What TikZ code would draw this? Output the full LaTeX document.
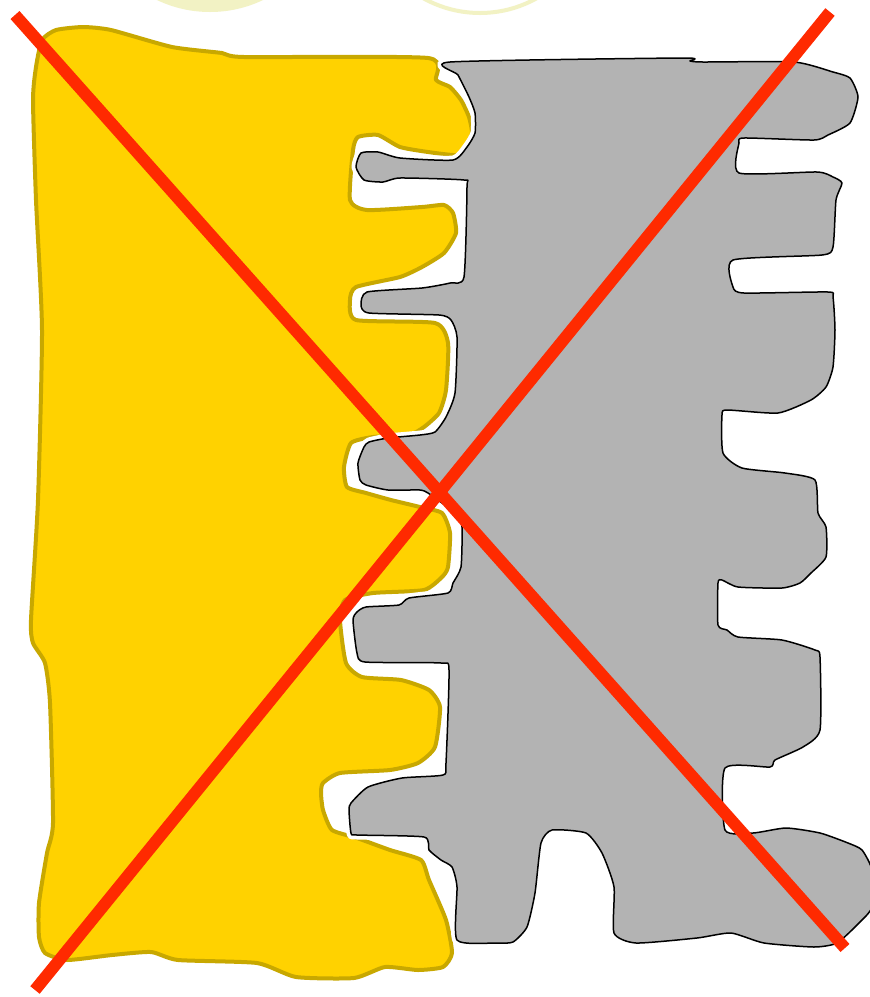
\documentclass[tikz,border=0pt]{standalone}
\usepackage{xcolor}
\usepackage{tikz}
\definecolor{partyellow}{HTML}{FFD200}
\definecolor{partyellowline}{HTML}{C8A800}
\definecolor{partgrey}{HTML}{B3B3B3}
\definecolor{crossred}{HTML}{FF2A00}
\definecolor{paleglow}{HTML}{F2F2C4}

\begin{document}
\begin{tikzpicture}[
        x=1pt, y=-1pt,
        glow/.style={fill=paleglow},
        glowring/.style={draw=paleglow, line width=4pt},
        yellowpart/.style={fill=partyellow, draw=partyellowline, line width=4pt, line join=round},
        greyhalo/.style={draw=white, line width=9pt, line join=round},
        greypart/.style={fill=partgrey, draw=black, line width=1.5pt, line join=round},
        crossline/.style={draw=crossred, line width=12pt}
    ]
        \clip (0,0) rectangle (870,997);
        \fill[white] (0,0) rectangle (870,997);

        \fill[glow] (210,-111) circle (123);
        \draw[glowring] (480,-103) circle (116);

        \path[yellowpart] plot[smooth cycle, tension=0.35] coordinates {
            (42,40) (56,30) (83,27) (111,30) (172,47) (222,53) (244,57) (428,58)
            (436,80) (450,87) (461,100) (469,117) (472,133) (467,147) (456,155)
            (428,152) (400,147) (378,135) (358,137) (353,150) (350,200) (367,210)
            (422,207) (444,205) (453,213) (456,233) (444,253) (422,267) (400,277)
            (356,287) (350,300) (356,320) (435,323) (448,343) (446,390) (439,413)
            (424,427) (409,435) (373,437) (351,443) (344,467) (347,487) (366,493)
            (391,500) (420,507) (442,513) (450,533) (448,567) (442,577) (424,590)
            (373,593) (345,600) (340,620) (346,663) (362,677) (401,680) (429,690)
            (440,707) (435,747) (418,763) (390,770) (340,773) (323,783) (321,793)
            (323,810) (332,830) (357,838) (390,850) (421,860) (429,880) (446,920)
            (452,953) (443,967) (418,970) (385,967) (354,978) (296,977) (257,963)
            (178,960) (151,952) (112,955) (67,960) (45,953) (39,937) (39,903)
            (47,853) (53,823) (50,703) (45,663) (33,643) (31,620) (38,500)
            (42,330) (36,200) (33,100) (36,67)};

        \path[greyhalo] plot[smooth cycle, tension=0.35] coordinates {
            (450,62) (683,58) (690,61) (703,62) (794,62) (833,72) (850,78) (858,97)
            (850,123) (828,135) (814,140) (744,138) (739,143) (739,173) (817,172)
            (833,177) (842,183) (836,200) (833,247) (822,255) (733,260) (733,287)
            (744,293) (828,292) (833,297) (835,330) (833,367) (826,387) (811,400)
            (778,413) (727,410) (722,415) (723,453) (742,468) (785,473) (815,480)
            (818,513) (826,527) (826,557) (811,573) (800,583) (782,588) (738,587)
            (722,580) (718,583) (718,625) (727,630) (738,637) (782,640) (815,650)
            (820,657) (820,730) (803,747) (775,760) (770,767) (725,768) (725,830)
            (753,833) (786,828) (820,833) (848,843) (862,850) (872,870) (872,907)
            (859,923) (837,943) (814,947) (764,943) (731,933) (697,938) (636,943)
            (614,933) (614,887) (602,853) (586,833) (552,830) (541,843) (535,893)
            (527,927) (513,942) (496,943) (457,940) (457,887) (452,867) (441,860)
            (429,850) (424,837) (357,835) (351,833) (349,810) (351,803) (368,787)
            (402,778) (443,775) (446,763) (449,670) (441,663) (365,662) (357,653)
            (353,620) (357,612) (366,607) (399,605) (409,598) (448,593) (453,583)
            (461,567) (462,527) (457,513) (442,503) (428,493) (420,490) (388,490)
            (366,485) (360,480) (358,463) (364,447) (369,442) (388,438) (420,435)
            (435,432) (446,417) (455,393) (457,337) (451,320) (439,315) (369,313)
            (361,305) (367,292) (422,288) (450,283) (464,277) (467,187) (464,180)
            (400,178) (383,182) (364,180) (356,167) (361,153) (378,152) (400,158)
            (453,160) (467,147) (475,133) (475,113) (469,97) (458,75)};

        \path[greypart] plot[smooth cycle, tension=0.35] coordinates {
            (450,62) (683,58) (690,61) (703,62) (794,62) (833,72) (850,78) (858,97)
            (850,123) (828,135) (814,140) (744,138) (739,143) (739,173) (817,172)
            (833,177) (842,183) (836,200) (833,247) (822,255) (733,260) (733,287)
            (744,293) (828,292) (833,297) (835,330) (833,367) (826,387) (811,400)
            (778,413) (727,410) (722,415) (723,453) (742,468) (785,473) (815,480)
            (818,513) (826,527) (826,557) (811,573) (800,583) (782,588) (738,587)
            (722,580) (718,583) (718,625) (727,630) (738,637) (782,640) (815,650)
            (820,657) (820,730) (803,747) (775,760) (770,767) (725,768) (725,830)
            (753,833) (786,828) (820,833) (848,843) (862,850) (872,870) (872,907)
            (859,923) (837,943) (814,947) (764,943) (731,933) (697,938) (636,943)
            (614,933) (614,887) (602,853) (586,833) (552,830) (541,843) (535,893)
            (527,927) (513,942) (496,943) (457,940) (457,887) (452,867) (441,860)
            (429,850) (424,837) (357,835) (351,833) (349,810) (351,803) (368,787)
            (402,778) (443,775) (446,763) (449,670) (441,663) (365,662) (357,653)
            (353,620) (357,612) (366,607) (399,605) (409,598) (448,593) (453,583)
            (461,567) (462,527) (457,513) (442,503) (428,493) (420,490) (388,490)
            (366,485) (360,480) (358,463) (364,447) (369,442) (388,438) (420,435)
            (435,432) (446,417) (455,393) (457,337) (451,320) (439,315) (369,313)
            (361,305) (367,292) (422,288) (450,283) (464,277) (467,187) (464,180)
            (400,178) (383,182) (364,180) (356,167) (361,153) (378,152) (400,158)
            (453,160) (467,147) (475,133) (475,113) (469,97) (458,75)};

        \coordinate (crossA) at (15,15);
        \coordinate (crossB) at (845,948);
        \coordinate (crossC) at (35,990);
        \coordinate (crossD) at (830,12);
        \draw[crossline] (crossA) -- (crossB);
        \draw[crossline] (crossC) -- (crossD);
\end{tikzpicture}
\end{document}
